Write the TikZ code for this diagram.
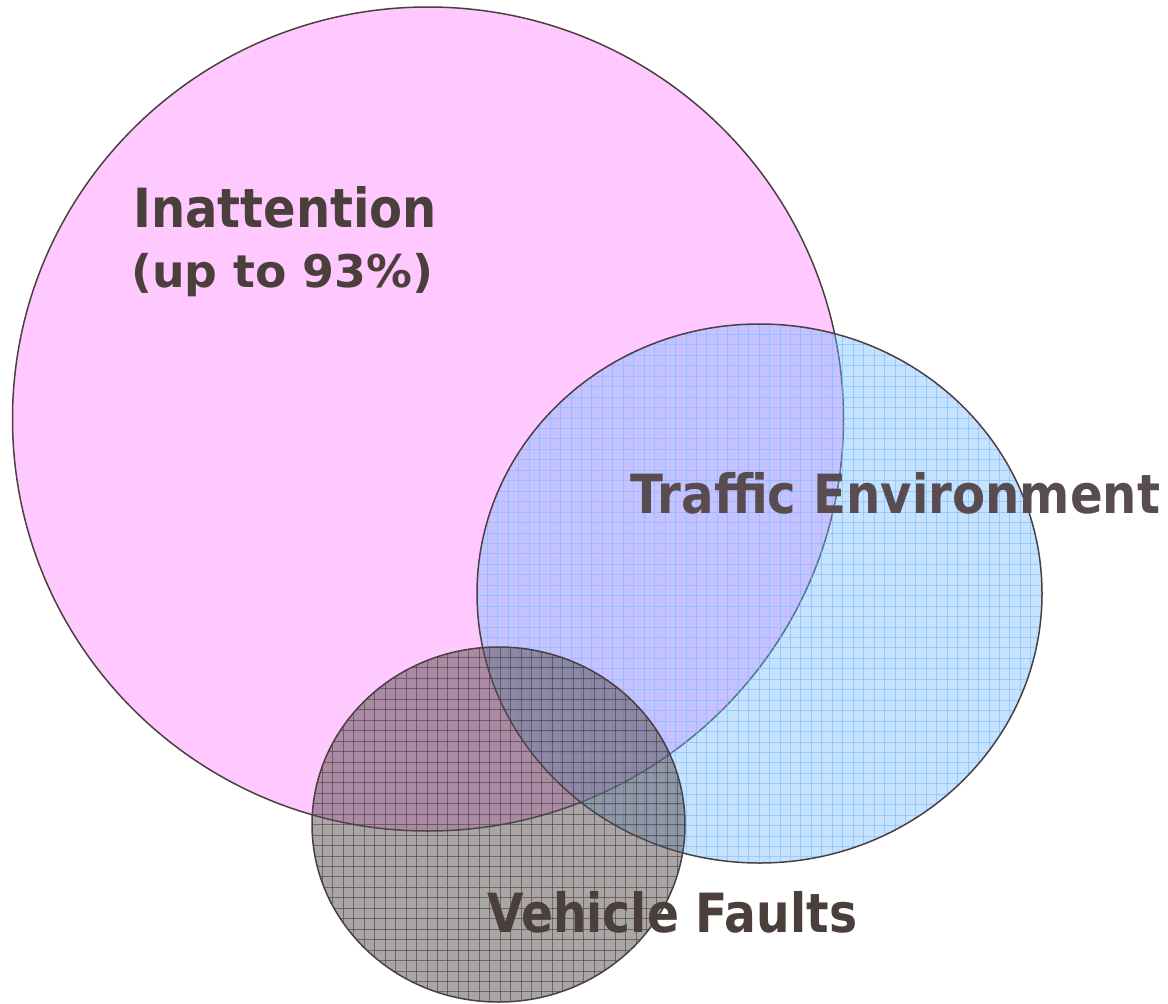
\documentclass[tikz,border=0pt]{standalone}
\usepackage{fontspec}
\setmainfont{DejaVu Sans}
\usepackage{graphicx}
\definecolor{pinkfill}{RGB}{255,200,255}
\definecolor{bluefill}{RGB}{110,185,255}
\definecolor{bluegrid}{RGB}{120,185,255}
\definecolor{grayfill}{RGB}{88,78,78}
\definecolor{graygrid}{RGB}{70,62,62}
\definecolor{outl}{RGB}{75,64,64}
\definecolor{txt}{RGB}{74,63,58}
\definecolor{txtb}{RGB}{88,76,80}
\newcommand\fitw[2]{\resizebox{#1}{\height}{#2}}
\tikzset{
  outline/.style={draw=outl, line width=1.5pt},
  lbl/.style={inner sep=0pt, anchor=base west, font=\bfseries\fontsize{54}{60}\selectfont, text=txt},
}
\begin{document}
\begin{tikzpicture}[x=1pt,y=-1pt]
\useasboundingbox (0,0) rectangle (1168,1004);
\fill[white] (0,0) rectangle (1168,1004);
% Inattention
\fill[pinkfill] (428,419) ellipse [x radius=415.5, y radius=412];
\draw[outline] (428,419) ellipse [x radius=415.5, y radius=412];
% Traffic environment
\fill[bluefill, fill opacity=0.4] (759.5,593.5) ellipse [x radius=282.5, y radius=269.5];
\begin{scope}
  \clip (759.5,593.5) ellipse [x radius=282.5, y radius=269.5];
  \foreach \i in {0,...,55} {
    \draw[bluegrid, line width=1pt, opacity=0.55] ({477+\i*10.45},320) -- ({477+\i*10.45},868);
  }
  \foreach \i in {0,...,53} {
    \draw[bluegrid, line width=1pt, opacity=0.55] (470,{324+\i*10.45}) -- (1050,{324+\i*10.45});
  }
\end{scope}
\draw[outline] (759.5,593.5) ellipse [x radius=282.5, y radius=269.5];
% Vehicle faults
\fill[grayfill, fill opacity=0.5] (498.5,824.5) ellipse [x radius=186.5, y radius=177.5];
\begin{scope}
  \clip (498.5,824.5) ellipse [x radius=186.5, y radius=177.5];
  \foreach \i in {0,...,37} {
    \draw[graygrid, line width=0.9pt, opacity=0.6] ({312+\i*10.45},640) -- ({312+\i*10.45},1010);
  }
  \foreach \i in {0,...,35} {
    \draw[graygrid, line width=0.9pt, opacity=0.6] (305,{647+\i*10.45}) -- (690,{647+\i*10.45});
  }
\end{scope}
\draw[outline] (498.5,824.5) ellipse [x radius=186.5, y radius=177.5];
% labels
\node[lbl] (inatt) at (133,227) {\fitw{304pt}{Inattention}};
\node[lbl, font=\bfseries\fontsize{45}{50}\selectfont] (pct) at (131,287) {\fitw{302pt}{(up to 93\%)}};
\node[lbl, text=txtb] (traffic) at (630,513) {\fitw{530pt}{Traffic Environment}};
\node[lbl] (vehicle) at (487,932) {\fitw{370pt}{Vehicle Faults}};
\end{tikzpicture}
\end{document}
